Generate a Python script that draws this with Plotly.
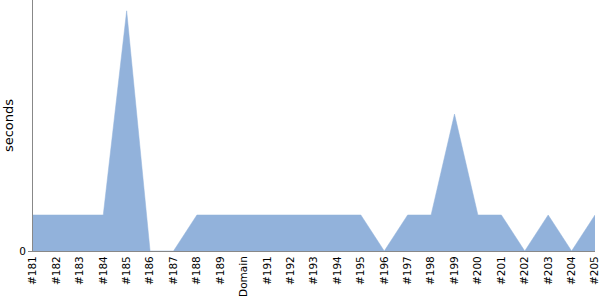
import plotly.graph_objects as go

builds = ["#181", "#182", "#183", "#184", "#185", "#186", "#187", "#188", "#189", "Domain",
          "#191", "#192", "#193", "#194", "#195", "#196", "#197", "#198", "#199", "#200",
          "#201", "#202", "#203", "#204", "#205"]
seconds = [3, 3, 3, 3, 20, 0, 0, 3, 3, 3,
           3, 3, 3, 3, 3, 0, 3, 3, 11.4, 3,
           3, 0, 3, 0, 3]

FONT = "DejaVu Sans"

fig = go.Figure()
fig.add_trace(go.Scatter(
    x=builds, y=seconds, mode="lines", fill="tozeroy",
    line=dict(color="rgb(146,178,219)", width=0.5),
    fillcolor="rgb(146,178,219)",
    hoverinfo="x+y",
))

fig.update_layout(
    width=600, height=300,
    margin=dict(l=33, r=5, t=0, b=49),
    paper_bgcolor="white", plot_bgcolor="white",
    showlegend=False,
    font=dict(family=FONT, size=10.5, color="black"),
    xaxis=dict(
        type="category", range=[0, 24], tickangle=-90, automargin=False,
        showline=True, linecolor="#888888", linewidth=1,
        showgrid=False, zeroline=False, ticks="", ticklen=0,
        tickfont=dict(family=FONT, size=10.5, color="black"),
    ),
    yaxis=dict(
        range=[0, 20.9], tickvals=[0], ticktext=["0"],
        showline=True, linecolor="#888888", linewidth=1,
        showgrid=False, zeroline=False, ticks="outside", ticklen=4, tickcolor="#888888",
        title=dict(text="seconds", font=dict(family=FONT, size=13, color="black"), standoff=2),
        tickfont=dict(family=FONT, size=10.5, color="black"),
    ),
)

fig.write_html("out.html")
